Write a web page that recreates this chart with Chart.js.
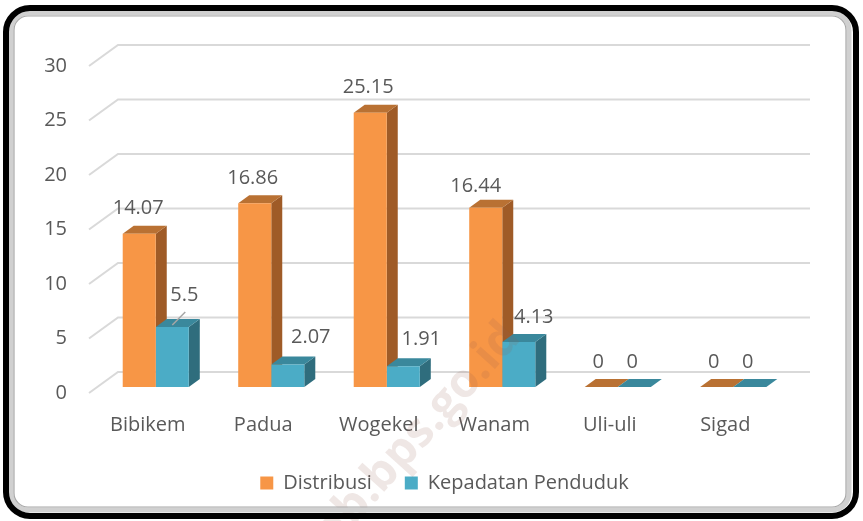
<html>
<head>
<meta charset="utf-8"/>
<title></title>
<style>
  html, body { margin: 0; padding: 0; background: #fff; }
  #wrap { width: 863px; height: 521px; }
</style>
</head>
<body>
<div id="wrap"><canvas id="bar3d" width="863" height="521"></canvas></div>

<script src="https://cdn.jsdelivr.net/npm/chart.js@4.4.1/dist/chart.umd.min.js"></script>
<script>
    var categories = ['Bibikem', 'Padua', 'Wogekel', 'Wanam', 'Uli-uli', 'Sigad'];
    var distribusi = [14.07, 16.86, 25.15, 16.44, 0, 0];
    var kepadatan = [5.5, 2.07, 1.91, 4.13, 0, 0];
    var yTicks = [0, 5, 10, 15, 20, 25, 30];

    // label nudges (dx, dy) as they were placed in the original
    var nudgeDistribusi = [[-1, -25], [-2, -25], [-2, -26], [-10, -22], [-3, -25], [-3, -25]];
    var nudgeKepadatan = [[12, -32], [23, -27], [18, -27], [15, -25], [-2, -25], [-2, -25]];

    var FONT = "'Open Sans', 'Noto Sans', sans-serif";
    var TXT = '#595959';
    var depth = {dx: 11, dy: -8};

    var faces = [
        {side: '#9F5B27', top: '#B97133'},
        {side: '#2F6D7D', top: '#3A889C'}
    ];

    function drawFaces(ctx, bar, col) {
        var l = bar.x - bar.width / 2, r = bar.x + bar.width / 2;
        var t = Math.min(bar.y, bar.base), b = Math.max(bar.y, bar.base);
        ctx.fillStyle = col.side;
        ctx.beginPath();
        ctx.moveTo(r, b);
        ctx.lineTo(r + depth.dx, b + depth.dy);
        ctx.lineTo(r + depth.dx, t + depth.dy);
        ctx.lineTo(r, t);
        ctx.closePath();
        ctx.fill();
        ctx.fillStyle = col.top;
        ctx.beginPath();
        ctx.moveTo(l, t);
        ctx.lineTo(l + depth.dx, t + depth.dy);
        ctx.lineTo(r + depth.dx, t + depth.dy);
        ctx.lineTo(r, t);
        ctx.closePath();
        ctx.fill();
    }

    function roundRect(ctx, x, y, w, h, r) {
        ctx.beginPath();
        ctx.moveTo(x + r, y);
        ctx.arcTo(x + w, y, x + w, y + h, r);
        ctx.arcTo(x + w, y + h, x, y + h, r);
        ctx.arcTo(x, y + h, x, y, r);
        ctx.arcTo(x, y, x + w, y, r);
        ctx.closePath();
    }

    var threeD = {
        id: 'threeD',
        beforeDraw: function (chart) {
            var ctx = chart.ctx;
            ctx.save();
            ctx.fillStyle = '#fff';
            ctx.fillRect(0, 0, chart.width, chart.height);
            ctx.restore();
        },
        beforeDatasetsDraw: function (chart) {
            // back wall + slanted floor-side gridlines
            var ctx = chart.ctx, ys = chart.scales.y, area = chart.chartArea;
            ctx.save();
            ctx.strokeStyle = '#d9d9d9';
            ctx.lineWidth = 2;
            ys.ticks.forEach(function (tk) {
                var p = ys.getPixelForValue(tk.value);
                ctx.beginPath();
                ctx.moveTo(area.left - 9, p + 6);
                ctx.lineTo(area.left + 20, p - 15);
                ctx.lineTo(area.right + 19, p - 15);
                ctx.stroke();
            });
            // side and top faces, orange first so the teal fronts cover them
            chart.data.datasets.forEach(function (ds, di) {
                chart.getDatasetMeta(di).data.forEach(function (bar) {
                    drawFaces(ctx, bar, faces[di]);
                });
            });
            ctx.restore();
        },
        afterDatasetsDraw: function (chart) {
            var ctx = chart.ctx;
            var nudges = [nudgeDistribusi, nudgeKepadatan];
            ctx.save();
            ctx.font = '20px ' + FONT;
            ctx.fillStyle = TXT;
            ctx.textAlign = 'center';
            ctx.textBaseline = 'middle';
            chart.data.datasets.forEach(function (ds, di) {
                chart.getDatasetMeta(di).data.forEach(function (bar, i) {
                    var n = nudges[di][i];
                    var lx = bar.x + n[0], ly = bar.y + n[1];
                    ctx.fillText(String(ds.data[i]), lx, ly);
                    if (n[1] < -30) {
                        // leader line
                        ctx.strokeStyle = '#a6a6a6';
                        ctx.lineWidth = 1.5;
                        ctx.beginPath();
                        ctx.moveTo(bar.x, bar.y - 2);
                        ctx.lineTo(lx + 1, ly + 17);
                        ctx.stroke();
                    }
                });
            });
            ctx.restore();
        },
        afterDraw: function (chart) {
            var ctx = chart.ctx;
            ctx.save();
            // watermark
            ctx.translate(512, 330);
            ctx.rotate(-48 * Math.PI / 180);
            ctx.font = 'bold 47px ' + FONT;
            ctx.fillStyle = 'rgba(150, 95, 80, 0.15)';
            ctx.textAlign = 'right';
            ctx.textBaseline = 'middle';
            ctx.fillText('kab.bps.go.id', 0, 0);
            ctx.restore();

            // frame
            ctx.save();
            ctx.strokeStyle = '#d0d0d0';
            ctx.lineWidth = 5;
            roundRect(ctx, 11, 13, 838, 497, 17);
            ctx.stroke();
            ctx.strokeStyle = '#a8a8a8';
            ctx.lineWidth = 1.2;
            roundRect(ctx, 14, 16, 832, 491, 14);
            ctx.stroke();
            ctx.strokeStyle = '#000';
            ctx.lineWidth = 6;
            roundRect(ctx, 6, 8, 850, 508, 24);
            ctx.stroke();
            ctx.restore();
        }
    };

    var ctx = document.getElementById('bar3d').getContext('2d');
    var chart = new Chart(ctx, {
        type: 'bar',
        data: {
            labels: categories,
            datasets: [
                {
                    label: 'Distribusi',
                    data: distribusi,
                    backgroundColor: '#F79646'
                },
                {
                    label: 'Kepadatan Penduduk',
                    data: kepadatan,
                    backgroundColor: '#4BACC6'
                }
            ]
        },
        options: {
            responsive: false,
            animation: false,
            events: [],
            categoryPercentage: 0.572,
            barPercentage: 1,
            layout: {padding: {left: 0, right: 72, top: 60, bottom: 18}},
            scales: {
                x: {
                    grid: {display: false, drawTicks: false},
                    border: {display: false},
                    ticks: {
                        color: TXT,
                        font: {family: FONT, size: 20},
                        padding: 26,
                        labelOffset: -8,
                        maxRotation: 0
                    },
                    afterFit: function (s) { s.height = 53; }
                },
                y: {
                    min: 0,
                    max: 30,
                    grid: {display: false, drawTicks: false},
                    border: {display: false},
                    afterBuildTicks: function (s) {
                        s.ticks = yTicks.map(function (v) { return {value: v}; });
                    },
                    ticks: {
                        color: TXT,
                        font: {family: FONT, size: 20},
                        padding: 31,
                        labelOffset: 6
                    },
                    afterFit: function (s) { s.width = 98; }
                }
            },
            plugins: {
                tooltip: {enabled: false},
                legend: {
                    position: 'bottom',
                    fullSize: false,
                    labels: {
                        color: TXT,
                        font: {family: FONT, size: 20},
                        boxWidth: 13,
                        boxHeight: 13,
                        padding: 33
                    }
                }
            }
        },
        plugins: [threeD]
    });
</script>
</body>
</html>
